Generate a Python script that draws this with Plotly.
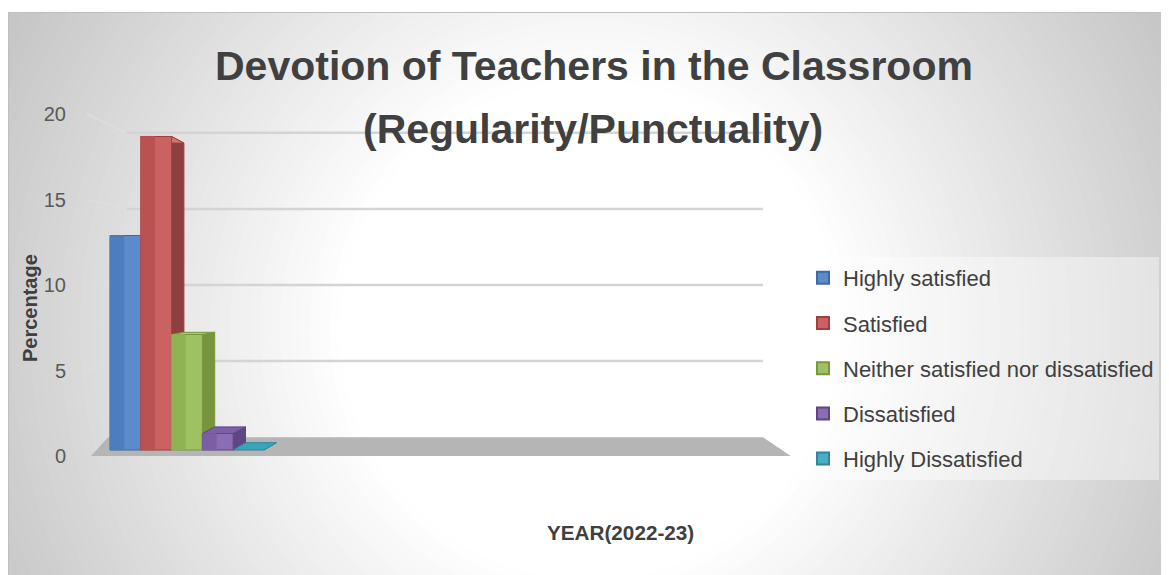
import plotly.graph_objects as go

# ---------------- data ----------------
categories = ["Highly satisfied", "Satisfied", "Neither satisfied nor dissatisfied",
              "Dissatisfied", "Highly Dissatisfied"]
values = [13, 19, 7, 1, 0]
y_ticks = [0, 5, 10, 15, 20]
title_line1 = "Devotion of Teachers in the Classroom"
title_line2 = "(Regularity/Punctuality)"
x_title = "YEAR(2022-23)"
y_title = "Percentage"

# ---------------- styles ----------------
front_col = ["#5b8bcb", "#cb6262", "#9dc163", "#8b6db3", "#4bacc6"]
stripe_col = ["#4e7dbd", "#ba5252", "#8eb254", "#7c5ea4", "#3e9bb4"]
side_col = ["#3f679f", "#8e3f3f", "#77943f", "#5e4683", "#2f7f94"]
top_col = ["#6b98d2", "#d47474", "#a9c972", "#7b5fa8", "#3aa4bb"]
edge_col = ["#3c6aa8", "#a03f3f", "#76993d", "#5f4585", "#31869c"]

FONT = "Liberation Sans, Arial, sans-serif"
OFF = 8                      # page body margin
W, H = 1169 - OFF, 575 - OFF
# plot area in page pixels: x 80..800, y 100..480
PX0, PX1, PY0, PY1 = 80, 800, 100, 480
ML, MT = PX0 - OFF, PY0 - OFF
PW, PH = PX1 - PX0, PY1 - PY0
MR, MB = W - ML - PW, H - MT - PH

# perspective helpers (value space)
EYE = 10.0
S_FRONT, S_BACK, S_WALL = 0.965, 0.922, 0.89
DX = 0.4          # horizontal depth offset of bars (in bar widths)
STRIPE = 0.45     # bevel stripe fraction
X_PX_PER_UNIT, BAR0_PX = 30.8, 110
Y_PX_PER_UNIT, ZERO_PX = 17.1, 456


def proj(v, s):
    return EYE + (v - EYE) * s


def pxx(px):   # page px -> paper x
    return (px - PX0) / PW


def pxy(py):   # page px -> paper y
    return (PY1 - py) / PH


fig = go.Figure()

# floor
fl_front = (-0.62, 22.1)
fl_back = (-0.06, 21.2)
fig.add_trace(go.Scatter(
    x=[fl_front[0], fl_front[1], fl_back[1], fl_back[0], fl_front[0]],
    y=[proj(0, 1), proj(0, 1), proj(0, S_WALL), proj(0, S_WALL), proj(0, 1)],
    fill="toself", fillcolor="#b5b5b5", mode="lines", line=dict(width=0),
    hoverinfo="skip", showlegend=False))

# back wall gridlines and side-wall diagonals
for t in y_ticks[1:]:
    fig.add_trace(go.Scatter(
        x=[-0.75, 0.55], y=[proj(t, 1), proj(t, S_WALL)], mode="lines",
        line=dict(color="#dedede", width=1.5), hoverinfo="skip", showlegend=False))
    fig.add_trace(go.Scatter(
        x=[0.55, fl_back[1]], y=[proj(t, S_WALL), proj(t, S_WALL)], mode="lines",
        line=dict(color="#d4d4d4", width=2.5), hoverinfo="skip", showlegend=False))

# side and top faces
for i, v in enumerate(values):
    xl, xr = i, i + 1
    fig.add_trace(go.Scatter(
        x=[xr, xr + DX, xr + DX, xr, xr],
        y=[proj(0, S_FRONT), proj(0, S_BACK), proj(v, S_BACK), proj(v, S_FRONT), proj(0, S_FRONT)],
        fill="toself", fillcolor=side_col[i], mode="lines",
        line=dict(color=edge_col[i], width=1), hoverinfo="skip", showlegend=False))
    fig.add_trace(go.Scatter(
        x=[xl, xr, xr + DX, xl + DX, xl],
        y=[proj(v, S_FRONT), proj(v, S_FRONT), proj(v, S_BACK), proj(v, S_BACK), proj(v, S_FRONT)],
        fill="toself", fillcolor=top_col[i], mode="lines",
        line=dict(color=edge_col[i], width=1), hoverinfo="skip", showlegend=False))

# front faces with bevel stripe
for i, v in enumerate(values):
    xl, xr = i, i + 1
    y0, y1 = proj(0, S_FRONT), proj(v, S_FRONT)
    if v > 0:
        fig.add_trace(go.Scatter(
            x=[xl, xr, xr, xl, xl], y=[y0, y0, y1, y1, y0],
            fill="toself", fillcolor=front_col[i], mode="lines",
            line=dict(color=edge_col[i], width=1), name=categories[i],
            hovertemplate=categories[i] + ": %{text}<extra></extra>",
            text=[str(v)] * 5, showlegend=False))
        fig.add_trace(go.Scatter(
            x=[xl, xl + STRIPE, xl + STRIPE, xl, xl], y=[y0, y0, y1, y1, y0],
            fill="toself", fillcolor=stripe_col[i], mode="lines",
            line=dict(color=stripe_col[i], width=0.5), hoverinfo="skip", showlegend=False))

# legend entries
for i, name in enumerate(categories):
    fig.add_trace(go.Scatter(
        x=[None], y=[None], mode="markers", name=name, legendgroup=name,
        marker=dict(symbol="square", size=13, color=front_col[i],
                    line=dict(color=edge_col[i], width=1.5))))

# background radial gradient (page pixel geometry)
shapes = []
CX, CY = 590, 330
for r in range(700, 249, -10):
    g = int(round(max(190, 255 - 0.14 * max(0, r - 250))))
    c = f"rgb({g},{g},{g})"
    shapes.append(dict(type="circle", xref="paper", yref="paper", layer="below",
                       x0=pxx(CX - r), x1=pxx(CX + r), y0=pxy(CY + r), y1=pxy(CY - r),
                       fillcolor=c, line=dict(width=0)))
shapes.append(dict(type="rect", xref="paper", yref="paper", layer="below",
                   x0=pxx(0), x1=pxx(1180), y0=pxy(12), y1=pxy(0),
                   fillcolor="white", line=dict(width=0)))
shapes.append(dict(type="rect", xref="paper", yref="paper", layer="below",
                   x0=pxx(8.5), x1=pxx(1180), y0=pxy(590), y1=pxy(12.5),
                   fillcolor="rgba(0,0,0,0)", line=dict(color="#bfbfbf", width=1)))

annotations = [
    dict(text=f"<b>{title_line1}</b>", x=pxx(594), y=pxy(66), xref="paper", yref="paper",
         showarrow=False, xanchor="center", yanchor="middle",
         font=dict(family=FONT, size=41, color="#404040")),
    dict(text=f"<b>{title_line2}</b>", x=pxx(593), y=pxy(129), xref="paper", yref="paper",
         showarrow=False, xanchor="center", yanchor="middle",
         font=dict(family=FONT, size=41, color="#404040")),
    dict(text=f"<b>{x_title}</b>", x=pxx(620), y=pxy(532), xref="paper", yref="paper",
         showarrow=False, xanchor="center", yanchor="middle",
         font=dict(family=FONT, size=20.7, color="#404040")),
    dict(text=f"<b>{y_title}</b>", x=pxx(30), y=pxy(308), xref="paper", yref="paper",
         showarrow=False, xanchor="center", yanchor="middle", textangle=-90,
         font=dict(family=FONT, size=20, color="#404040")),
]

x0_units = -(BAR0_PX - PX0) / X_PX_PER_UNIT
y0_units = -(PY1 - ZERO_PX) / Y_PX_PER_UNIT
fig.update_layout(
    width=W, height=H,
    margin=dict(l=ML, r=MR, t=MT, b=MB, autoexpand=False),
    paper_bgcolor="rgb(190,190,190)", plot_bgcolor="rgba(0,0,0,0)",
    shapes=shapes, annotations=annotations,
    showlegend=True,
    legend=dict(x=pxx(803), y=pxy(257), xanchor="left", yanchor="top",
                bgcolor="rgba(255,255,255,0.4)", borderwidth=0,
                font=dict(family=FONT, size=22, color="#404040"),
                tracegroupgap=13.6, itemsizing="constant", traceorder="grouped"),
    xaxis=dict(range=[x0_units, x0_units + PW / X_PX_PER_UNIT],
               showgrid=False, zeroline=False, showline=False, showticklabels=False,
               fixedrange=True),
    yaxis=dict(range=[y0_units, y0_units + PH / Y_PX_PER_UNIT],
               tickvals=y_ticks, ticktext=[str(t) for t in y_ticks],
               showgrid=False, zeroline=False, showline=False, ticks="",
               ticklabelstandoff=13,
               tickfont=dict(family=FONT, size=20, color="#595959"), fixedrange=True),
    hovermode="closest",
)

fig.write_html("out.html")
